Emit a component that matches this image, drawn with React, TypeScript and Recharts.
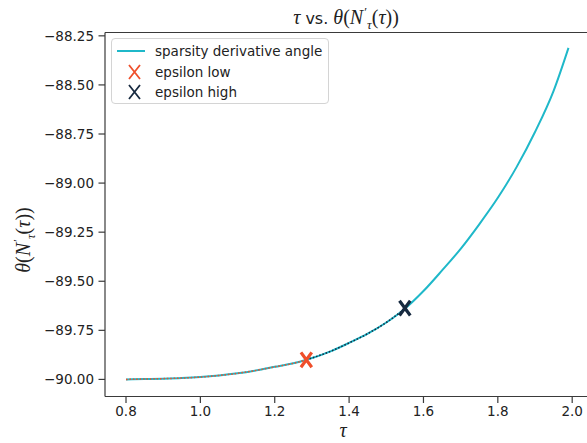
import React from 'react';
import { ComposedChart, Line, Scatter, XAxis, YAxis, Legend, ReferenceLine } from 'recharts';

const tauValues = [0.8, 0.85, 0.9, 0.95, 1.0, 1.05, 1.1, 1.15, 1.2, 1.25, 1.285, 1.3, 1.35, 1.4, 1.45, 1.5, 1.55, 1.6, 1.65, 1.7, 1.75, 1.8, 1.85, 1.9, 1.95, 1.99];
const thetaValues = [-90.0, -89.998, -89.996, -89.993, -89.988, -89.98, -89.969, -89.954, -89.936, -89.918, -89.9, -89.891, -89.857, -89.814, -89.767, -89.71, -89.64, -89.55, -89.445, -89.335, -89.21, -89.075, -88.92, -88.74, -88.53, -88.311];

const epsilonLow = [{ x: 1.285, y: -89.9 }];
const epsilonHigh = [{ x: 1.55, y: -89.637 }];

const xTicks = [0.8, 1.0, 1.2, 1.4, 1.6, 1.8, 2.0];
const yTicks = [-90.0, -89.75, -89.5, -89.25, -89.0, -88.75, -88.5, -88.25];

const CYAN = '#1fb8c9';
const RED = '#ef4f2b';
const NAVY = '#172a40';
const SPINE = '#3a3a3a';
const TEXT = '#222';

const lowTau = epsilonLow[0].x;
const highTau = epsilonHigh[0].x;

const data = tauValues.map((t, i) => ({
  x: t,
  y: thetaValues[i],
  low: t <= lowTau ? thetaValues[i] : null,
  high: t >= lowTau && t <= highTau ? thetaValues[i] : null,
}));

const fmtY = (v: number) => (v < 0 ? '\u2212' : '') + Math.abs(v).toFixed(2);

const makeX = (color: string) => (props: any) => {
  const { cx, cy } = props;
  if (cx == null || cy == null) return <g />;
  const w = 5.4;
  const h = 7.4;
  return (
    <path
      d={`M${cx - w},${cy - h}L${cx + w},${cy + h}M${cx + w},${cy - h}L${cx - w},${cy + h}`}
      stroke={color}
      strokeWidth={3.2}
      fill="none"
    />
  );
};

const LegendBox = () => {
  const row = (top: number, sample: React.ReactNode, label: string) => (
    <div style={{ position: 'absolute', left: 0, top: top - 10, height: 20, width: '100%' }}>
      <svg width={40} height={20} style={{ position: 'absolute', left: 0, top: 0 }}>{sample}</svg>
      <span style={{ position: 'absolute', left: 43, top: 0, lineHeight: '20px', whiteSpace: 'nowrap' }}>{label}</span>
    </div>
  );
  const xGlyph = (c: string) => (
    <path d="M17,3L28,17M28,3L17,17" stroke={c} strokeWidth={1.8} fill="none" />
  );
  return (
    <div
      style={{
        position: 'relative',
        width: 218,
        height: 66,
        boxSizing: 'border-box',
        border: '1px solid #d4d4d4',
        borderRadius: 4,
        background: 'rgba(255,255,255,0.85)',
        fontFamily: 'DejaVu Sans',
        fontSize: 13.5,
        color: TEXT,
      }}
    >
      {row(12, <line x1={5} y1={10} x2={33} y2={10} stroke={CYAN} strokeWidth={2} />, 'sparsity derivative angle')}
      {row(32.5, xGlyph(RED), 'epsilon low')}
      {row(52.5, xGlyph(NAVY), 'epsilon high')}
    </div>
  );
};

const serif = 'Liberation Serif, DejaVu Serif, serif';

const MathLabel = () => (
  <>
    <tspan fontStyle="italic">θ</tspan>
    <tspan>(</tspan>
    <tspan fontStyle="italic">N</tspan>
    <tspan fontSize={13} dy={-8} dx={1}>′</tspan>
    <tspan fontSize={13} fontStyle="italic" dy={13} dx={0}>τ</tspan>
    <tspan dy={-5}>(</tspan>
    <tspan fontStyle="italic">τ</tspan>
    <tspan>))</tspan>
  </>
);

export default function App() {
  return (
    <div style={{ position: 'absolute', left: 0, top: 0, width: 587, height: 443, overflow: 'hidden', background: '#fff' }}>
      <ComposedChart
        width={610}
        height={443}
        data={data}
        margin={{ top: 32.5, right: 15.5, left: 0, bottom: 0 }}
      >
        <XAxis
          dataKey="x"
          type="number"
          domain={[0.7435, 2.06]}
          allowDataOverflow
          ticks={xTicks}
          tickFormatter={(v: number) => v.toFixed(1)}
          height={46.5}
          tickSize={6.5}
          tickMargin={3}
          stroke={SPINE}
          strokeWidth={1.2}
          tick={{ fill: TEXT, fontSize: 13.5, fontFamily: 'DejaVu Sans' }}
        />
        <YAxis
          type="number"
          domain={[-90.087, -88.233]}
          allowDataOverflow
          ticks={yTicks}
          tickFormatter={fmtY}
          width={105}
          tickSize={6.5}
          tickMargin={4.5}
          stroke={SPINE}
          strokeWidth={1.2}
          tick={{ fill: TEXT, fontSize: 13.5, fontFamily: 'DejaVu Sans' }}
        />
        <ReferenceLine y={-88.233} stroke={SPINE} strokeWidth={1.2} ifOverflow="visible" />
        <Line
          dataKey="y"
          type="monotone"
          stroke={CYAN}
          strokeWidth={2}
          dot={false}
          isAnimationActive={false}
          legendType="line"
          name="sparsity derivative angle"
        />
        <Line
          dataKey="low"
          type="monotone"
          stroke={RED}
          strokeWidth={1.5}
          strokeDasharray="1.6 1.8"
          dot={false}
          connectNulls={false}
          isAnimationActive={false}
          legendType="none"
        />
        <Line
          dataKey="high"
          type="monotone"
          stroke={NAVY}
          strokeWidth={1.5}
          strokeDasharray="1.6 1.8"
          dot={false}
          connectNulls={false}
          isAnimationActive={false}
          legendType="none"
        />
        <Scatter data={epsilonLow} dataKey="y" name="epsilon low" shape={makeX(RED)} isAnimationActive={false} />
        <Scatter data={epsilonHigh} dataKey="y" name="epsilon high" shape={makeX(NAVY)} isAnimationActive={false} />
        <Legend
          layout="vertical"
          align="center"
          verticalAlign="middle"
          content={() => <LegendBox />}
          wrapperStyle={{ position: 'absolute', left: 111, top: 38, width: 218, height: 66 }}
        />
      </ComposedChart>
      <svg width={587} height={443} style={{ position: 'absolute', left: 0, top: 0, pointerEvents: 'none' }}>
        <text x={346} y={24} textAnchor="middle" fontSize={20} fill={TEXT} fontFamily={serif}>
          <tspan fontStyle="italic">τ</tspan>
          <tspan fontFamily="DejaVu Sans" fontSize={16}> vs. </tspan>
          <MathLabel />
        </text>
        <text x={343} y={437} textAnchor="middle" fontSize={20} fill={TEXT} fontFamily={serif} fontStyle="italic">τ</text>
        <text
          transform="translate(30,240) rotate(-90)"
          textAnchor="middle"
          fontSize={20}
          fill={TEXT}
          fontFamily={serif}
        >
          <MathLabel />
        </text>
      </svg>
    </div>
  );
}
